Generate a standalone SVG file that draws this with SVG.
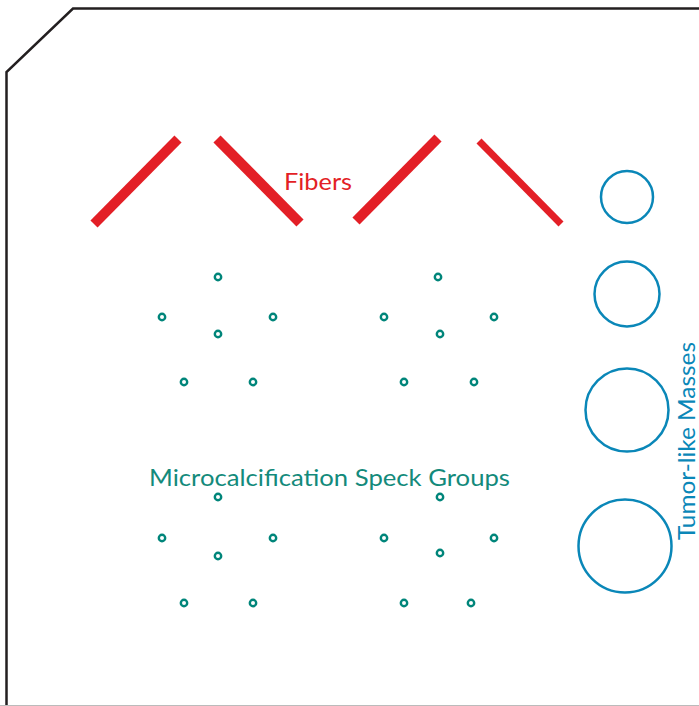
<svg xmlns="http://www.w3.org/2000/svg" width="699" height="706" viewBox="0 0 699 706">
<style>
.fiber{stroke:#e31f26;stroke-linecap:butt;fill:none}
.speck{fill:none;stroke:#00857a;stroke-width:2.4}
.mass{fill:none;stroke:#0a87b8;stroke-width:2.5}
.lbl{font-family:Lato,"Open Sans","Liberation Sans",sans-serif;font-size:24px}
</style>
<rect width="699" height="706" fill="#fff"/>
<g id="outline">
<path d="M6.5,706 L6.5,72 L73,8.5 L699,8.5" fill="none" stroke="#231f20" stroke-width="2.5" stroke-linejoin="miter"/>
<line x1="0" y1="705.5" x2="699" y2="705.5" stroke="#bbbbbb" stroke-width="1.2"/>
</g>
<g id="fibers">
<line class="fiber" x1="94" y1="224" x2="178" y2="139" stroke-width="10"/>
<line class="fiber" x1="217" y1="139" x2="300" y2="223" stroke-width="10"/>
<line class="fiber" x1="356" y1="221" x2="438" y2="138" stroke-width="10"/>
<line class="fiber" x1="479" y1="141" x2="561" y2="224" stroke-width="7"/>
<text class="lbl" x="284" y="190" fill="#e31f26" textLength="68" lengthAdjust="spacingAndGlyphs">Fibers</text>
</g>
<g id="specks1">
<circle class="speck" cx="218" cy="277" r="3.2"/>
<circle class="speck" cx="162" cy="317" r="3.2"/>
<circle class="speck" cx="273" cy="317" r="3.2"/>
<circle class="speck" cx="218" cy="334" r="3.2"/>
<circle class="speck" cx="184" cy="382" r="3.2"/>
<circle class="speck" cx="253" cy="382" r="3.2"/>
</g>
<g id="specks2">
<circle class="speck" cx="438" cy="277" r="3.2"/>
<circle class="speck" cx="384" cy="317" r="3.2"/>
<circle class="speck" cx="494" cy="317" r="3.2"/>
<circle class="speck" cx="440" cy="334" r="3.2"/>
<circle class="speck" cx="404" cy="382" r="3.2"/>
<circle class="speck" cx="474" cy="382" r="3.2"/>
</g>
<g id="specks3">
<circle class="speck" cx="218" cy="497" r="3.2"/>
<circle class="speck" cx="162" cy="538" r="3.2"/>
<circle class="speck" cx="273" cy="538" r="3.2"/>
<circle class="speck" cx="218" cy="556" r="3.2"/>
<circle class="speck" cx="184" cy="603" r="3.2"/>
<circle class="speck" cx="253" cy="603" r="3.2"/>
</g>
<g id="specks4">
<circle class="speck" cx="440" cy="497" r="3.2"/>
<circle class="speck" cx="384" cy="538" r="3.2"/>
<circle class="speck" cx="494" cy="538" r="3.2"/>
<circle class="speck" cx="440" cy="553" r="3.2"/>
<circle class="speck" cx="404" cy="603" r="3.2"/>
<circle class="speck" cx="471" cy="603" r="3.2"/>
</g>
<g id="specks-label">
<text class="lbl" x="149" y="486" fill="#138a7b" textLength="361" lengthAdjust="spacingAndGlyphs">Microcalcification Speck Groups</text>
</g>
<g id="masses">
<circle class="mass" cx="627" cy="197" r="26"/>
<circle class="mass" cx="627" cy="294" r="32.5"/>
<circle class="mass" cx="627" cy="410" r="41.5"/>
<circle class="mass" cx="625" cy="546" r="46.5"/>
<text class="lbl" transform="translate(695,540) rotate(-90)" x="0" y="0" fill="#0a87b8" textLength="198" lengthAdjust="spacingAndGlyphs">Tumor-like Masses</text>
</g>
</svg>
